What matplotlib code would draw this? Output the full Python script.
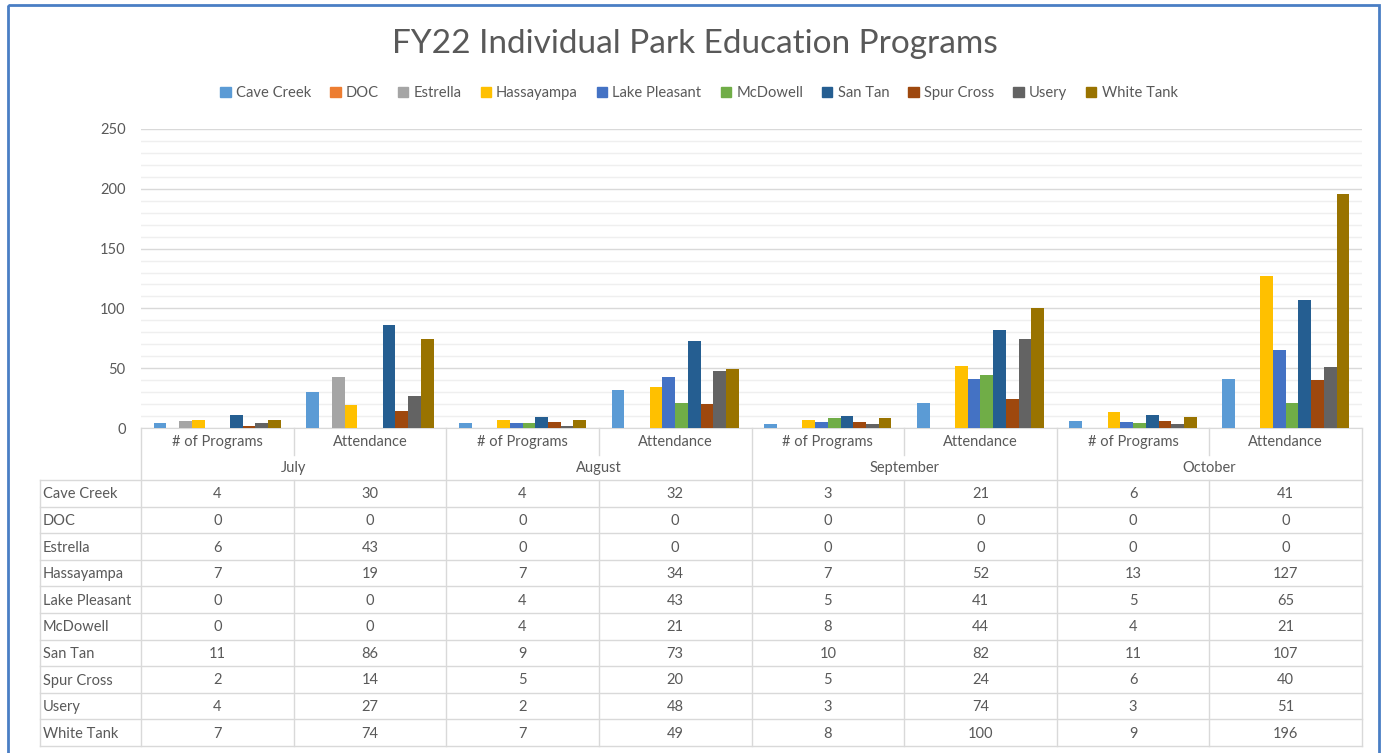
import matplotlib

matplotlib.use("Agg")
import matplotlib.pyplot as plt
from matplotlib.patches import Patch, Rectangle
from matplotlib.ticker import MultipleLocator
import numpy as np

plt.rcParams["font.family"] = ["Lato", "DejaVu Sans"]

TITLE = "FY22 Individual Park Education Programs"
months = ["July", "August", "September", "October"]
measures = ["# of Programs", "Attendance"]
parks = ["Cave Creek", "DOC", "Estrella", "Hassayampa", "Lake Pleasant",
         "McDowell", "San Tan", "Spur Cross", "Usery", "White Tank"]

# values per park, order: Jul prog, Jul att, Aug prog, Aug att, Sep prog, Sep att, Oct prog, Oct att
cave_creek = [4, 30, 4, 32, 3, 21, 6, 41]
doc = [0, 0, 0, 0, 0, 0, 0, 0]
estrella = [6, 43, 0, 0, 0, 0, 0, 0]
hassayampa = [7, 19, 7, 34, 7, 52, 13, 127]
lake_pleasant = [0, 0, 4, 43, 5, 41, 5, 65]
mcdowell = [0, 0, 4, 21, 8, 44, 4, 21]
san_tan = [11, 86, 9, 73, 10, 82, 11, 107]
spur_cross = [2, 14, 5, 20, 5, 24, 6, 40]
usery = [4, 27, 2, 48, 3, 74, 3, 51]
white_tank = [7, 74, 7, 49, 8, 100, 9, 196]
series = [cave_creek, doc, estrella, hassayampa, lake_pleasant,
          mcdowell, san_tan, spur_cross, usery, white_tank]

colors = ["#5B9BD5", "#ED7D31", "#A5A5A5", "#FFC000", "#4472C4",
          "#70AD47", "#255E91", "#9E480E", "#636363", "#997300"]
TXT = "#595959"
GRID = "#D9D9D9"

W, H = 1383, 753
fig = plt.figure(figsize=(W / 100, H / 100), dpi=100)

# plot area in pixels
px0, px1, py_top, py_bot = 141, 1362, 129, 428
ax = fig.add_axes([px0 / W, 1 - py_bot / H, (px1 - px0) / W, (py_bot - py_top) / H])
ncat = len(months) * len(measures)
x = np.arange(ncat)
bw = 1 / 12
for i, (vals, c) in enumerate(zip(series, colors)):
    ax.bar(x + (i - 4.5) * bw, vals, bw, color=c, label=parks[i], zorder=3)
ax.set_xlim(-0.5, ncat - 0.5)
ax.set_ylim(0, 250)
ax.yaxis.set_major_locator(MultipleLocator(50))
ax.yaxis.set_minor_locator(MultipleLocator(10))
ax.grid(which="major", axis="y", color=GRID, lw=1.0, zorder=0)
ax.grid(which="minor", axis="y", color="#EFEFEF", lw=1.0, zorder=0)
ax.set_xticks([])
ax.tick_params(axis="y", which="both", length=0, labelsize=10.5, labelcolor=TXT, pad=11)
for s in ["top", "right", "left"]:
    ax.spines[s].set_visible(False)
ax.spines["bottom"].set_color(GRID)

# overlay in pixel coordinates for the data table, title, border
ov = fig.add_axes([0, 0, 1, 1], facecolor="none")
ov.set_xlim(0, W)
ov.set_ylim(H, 0)
ov.axis("off")

ov.add_patch(Rectangle((8, 5), 1371, 760, fill=False, ec="#4A7EC4", lw=2))
ov.text(695, 44, TITLE, ha="center", va="center", fontsize=24, color=TXT)

handles = [Patch(color=c, label=p) for c, p in zip(colors, parks)]
fig.legend(handles=handles, loc="center", bbox_to_anchor=(699 / W, 1 - 93 / H),
           ncol=10, frameon=False, fontsize=10.6, labelcolor=TXT,
           handlelength=0.7, handleheight=0.7, handletextpad=0.35,
           columnspacing=1.3)

colw = (px1 - px0) / ncat
col_edges = [px0 + k * colw for k in range(ncat + 1)]
hdr1, hdr2 = 455, 480
row_h = (746 - hdr2) / len(parks)
row_edges = [hdr2 + k * row_h for k in range(len(parks) + 1)]
tbl_left = 40
lc = dict(color=GRID, lw=1.0)

# header lines
for k, xe in enumerate(col_edges):
    if k % 2 == 0:
        ov.plot([xe, xe], [py_bot, row_edges[-1]], **lc)
    else:
        ov.plot([xe, xe], [py_bot, hdr1], **lc)
        ov.plot([xe, xe], [hdr2, row_edges[-1]], **lc)
ov.plot([tbl_left, tbl_left], [hdr2, row_edges[-1]], **lc)
for ye in row_edges:
    ov.plot([tbl_left, px1], [ye, ye], **lc)

fs = 10.5
for k in range(ncat):
    cx = (col_edges[k] + col_edges[k + 1]) / 2
    ov.text(cx, 442, measures[k % 2], ha="center", va="center", fontsize=fs, color=TXT)
for m, name in enumerate(months):
    cx = (col_edges[2 * m] + col_edges[2 * m + 2]) / 2
    ov.text(cx, 468, name, ha="center", va="center", fontsize=fs, color=TXT)
for r, (name, vals) in enumerate(zip(parks, series)):
    cy = (row_edges[r] + row_edges[r + 1]) / 2 + 1
    ov.text(tbl_left + 3, cy, name, ha="left", va="center", fontsize=fs, color=TXT)
    for k, v in enumerate(vals):
        cx = (col_edges[k] + col_edges[k + 1]) / 2
        ov.text(cx, cy, str(v), ha="center", va="center", fontsize=fs, color=TXT)

fig.savefig("out.png", dpi=100)
